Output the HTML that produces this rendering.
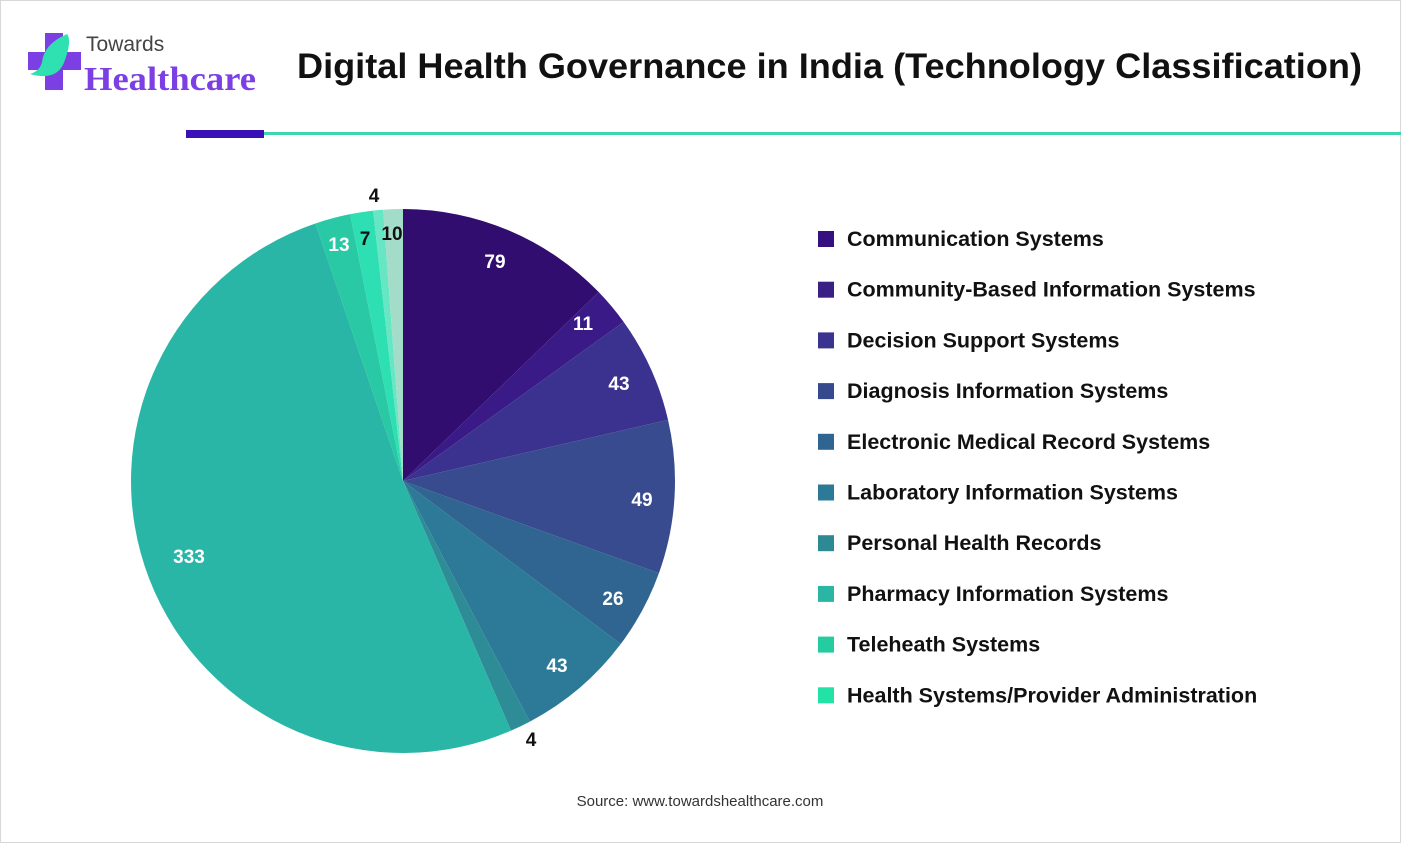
<!DOCTYPE html>
<html><head><meta charset="utf-8"><style>
html,body{margin:0;padding:0;background:#fff}
svg{display:block;font-family:"Liberation Sans",sans-serif}
</style></head><body>
<svg id="s" width="1401" height="843" viewBox="0 0 1401 843">
<rect x="0.5" y="0.5" width="1400" height="842" fill="#fff" stroke="#d8d8d8"/>
<rect x="45" y="33" width="18" height="57" fill="#7b3fe4"/>
<rect x="28" y="52" width="53" height="18" fill="#7b3fe4"/>
<path d="M30 74 Q58 82 65 60 Q72 40 67 34 Q44 44 42 62 Q40 71 30 74Z" fill="#2fe0b0"/>
<text x="86" y="51" font-size="21" fill="#444">Towards</text>
<text x="84" y="90" font-size="34" font-weight="bold" fill="#7b3fe4" font-family="Liberation Serif,serif" textLength="172" lengthAdjust="spacingAndGlyphs">Healthcare</text>
<text x="297" y="78" font-size="35" font-weight="bold" fill="#111" textLength="1065" lengthAdjust="spacingAndGlyphs">Digital Health Governance in India (Technology Classification)</text>
<rect x="263" y="132" width="1138" height="3" fill="#3dd6b0"/>
<rect x="186" y="130" width="78" height="8" fill="#3a10b8"/>
<g id="pie"></g>
<g font-size="19" font-weight="bold" text-anchor="middle">
<text x="495" y="268" fill="#fff">79</text>
<text x="583" y="330" fill="#fff">11</text>
<text x="619" y="390" fill="#fff">43</text>
<text x="642" y="506" fill="#fff">49</text>
<text x="613" y="605" fill="#fff">26</text>
<text x="557" y="672" fill="#fff">43</text>
<text x="531" y="746" fill="#111">4</text>
<text x="189" y="563" fill="#fff">333</text>
<text x="339" y="251" fill="#fff">13</text>
<text x="365" y="245" fill="#111">7</text>
<text x="374" y="202" fill="#111">4</text>
<text x="392" y="240" fill="#111">10</text>
</g>
<g id="leg" font-size="21.5" font-weight="bold" fill="#111"></g>
<text x="700" y="806" font-size="15" fill="#333" text-anchor="middle">Source: www.towardshealthcare.com</text>
</svg>
<script>
var e=[0,46,54.2,77,109.8,126.8,152.2,156.6,341.2,348.8,353.7,355.8,360];
var c=["#300d6e","#3a1a86","#3b3290","#374b8e","#2f6590","#2c7a97","#2d8c96","#2ab6a6","#28c9a4","#2fdfb4","#66e6c2","#a3dcc9"];
var cx=403,cy=481,r=272,g=document.getElementById('pie'),h='';
for(var i=0;i<12;i++){var a=e[i]*Math.PI/180,b=e[i+1]*Math.PI/180;
var x1=cx+r*Math.sin(a),y1=cy-r*Math.cos(a),x2=cx+r*Math.sin(b),y2=cy-r*Math.cos(b);
h+='<path d="M'+cx+' '+cy+'L'+x1+' '+y1+'A'+r+' '+r+' 0 '+((b-a)>Math.PI?1:0)+' 1 '+x2+' '+y2+'Z" fill="'+c[i]+'"/>';}
g.innerHTML=h;
var L=["Communication Systems","Community-Based Information Systems","Decision Support Systems","Diagnosis Information Systems","Electronic Medical Record Systems","Laboratory Information Systems","Personal Health Records","Pharmacy Information Systems","Teleheath Systems","Health Systems/Provider Administration"];
var lc=["#360f80","#3a1f85","#3b3390","#384a8e","#2f6590","#2c7a97","#2d8a95","#2bb5a5","#24cc9f","#22e2a5"];
var lh='';L.forEach(function(s,i){var y=239+i*50.7;
lh+='<rect x="818" y="'+(y-8)+'" width="16" height="16" fill="'+lc[i]+'"/><text x="847" y="'+(y+7)+'">'+s+'</text>';});
document.getElementById('leg').innerHTML=lh;
</script>
</body></html>
